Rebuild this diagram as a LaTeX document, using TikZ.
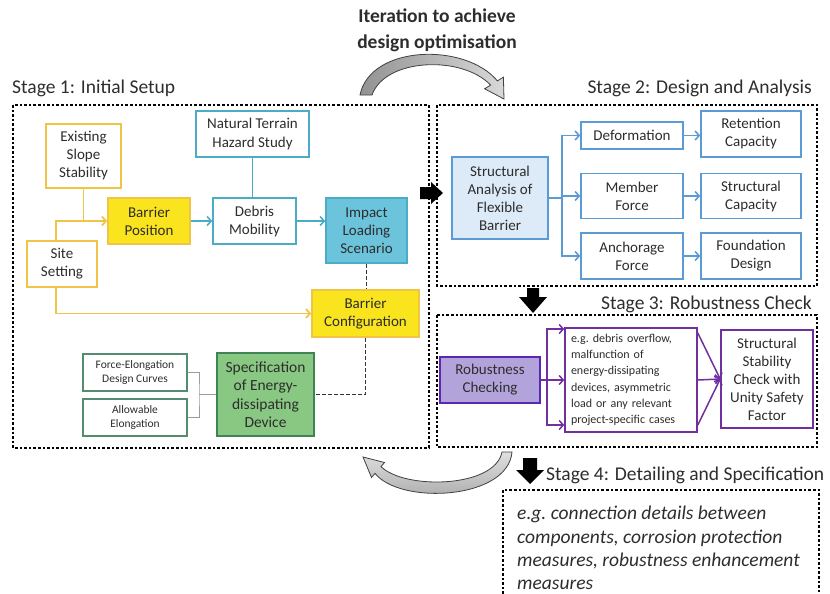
\documentclass[tikz,border=0pt]{standalone}
\usepackage{fontspec}
\setmainfont{Carlito}
\usepackage{xcolor}
\usepackage{tikz}
\usetikzlibrary{arrows.meta, positioning}

\definecolor{txt}{RGB}{45,45,45}
\definecolor{ylwline}{RGB}{240,196,70}
\definecolor{ylwfill}{RGB}{250,228,30}
\definecolor{cyanline}{RGB}{75,172,198}
\definecolor{cyanfill}{RGB}{108,196,220}
\definecolor{blueline}{RGB}{91,155,213}
\definecolor{bluefill}{RGB}{221,234,247}
\definecolor{purpline}{RGB}{112,48,160}
\definecolor{purpfill}{RGB}{178,164,218}
\definecolor{grnline}{RGB}{62,132,84}
\definecolor{grnfill}{RGB}{136,200,130}
\definecolor{grnthin}{RGB}{84,140,112}
\definecolor{brkline}{RGB}{150,160,155}

\begin{document}
\begin{tikzpicture}[x=1pt, y=-1pt, >={Straight Barb[length=4pt,width=9pt]},
    box/.style={draw, line width=1.6pt, align=center, inner sep=0pt, text=txt, font=\fontsize{15}{18}\selectfont},
    sz/.style 2 args={minimum width=#1pt, minimum height=#2pt},
    ybox/.style={box, draw=ylwline, fill=white},
    yfill/.style={box, draw=ylwline, fill=ylwfill},
    cbox/.style={box, draw=cyanline, fill=white},
    cfill/.style={box, draw=cyanline, fill=cyanfill},
    bbox/.style={box, draw=blueline, fill=white},
    gbox/.style={box, draw=grnthin, line width=1.2pt, font=\fontsize{11.5}{14.5}\selectfont},
    stagebox/.style={draw=black, line width=2.6pt, dash pattern=on 2.6pt off 2pt},
    stagelabel/.style={text=txt, font=\fontsize{19.5}{24}\selectfont, inner sep=0pt},
    yline/.style={draw=ylwline, line width=1.8pt},
    cline/.style={draw=cyanline, line width=1.6pt},
    bline/.style={draw=blueline, line width=1.6pt},
    pline/.style={draw=purpline, line width=1.5pt},
    gline/.style={draw=brkline, line width=1pt},
    dline/.style={draw=black!80, line width=1.8pt, dash pattern=on 4pt off 2pt},
    curvearrow/.style={draw=black!75, line width=0.8pt}]

    \useasboundingbox (0,0) rectangle (830,594);

    % Title and stage frames
    \node (iter) [text=txt, font=\bfseries\fontsize{19.5}{26}\selectfont, align=center] at (437,30) {Iteration to achieve\\design optimisation};
    \node (s1) [stagelabel, anchor=west] at (12,88) {Stage 1: Initial Setup};
    \node (s2) [stagelabel, anchor=east] at (812,88) {Stage 2: Design and Analysis};
    \node (s3) [stagelabel, anchor=east] at (812,304) {Stage 3: Robustness Check};
    \node (s4) [stagelabel, anchor=west] at (546,475) {Stage 4: Detailing and Specification};
    \draw[stagebox] (13,105) rectangle (429,448);
    \draw[stagebox] (437,105) rectangle (817,286);
    \draw[stagebox] (437,315) rectangle (817,447);
    \draw[stagebox] (503,594) -- (503,490) -- (819,490) -- (819,594);

    % Stage 1 nodes
    \node (exist) [ybox, sz={75}{64}] at (83.5,156) {Existing\\Slope\\Stability};
    \node (terrain) [cbox, sz={113}{46}] at (252.5,134) {Natural Terrain\\Hazard Study};
    \node (barpos) [yfill, sz={82}{46}] at (149,221) {Barrier\\Position};
    \node (debris) [cbox, sz={83}{46}] at (254.5,221) {Debris\\Mobility};
    \node (impact) [cfill, sz={81}{65}] at (366.5,230.5) {Impact\\Loading\\Scenario};
    \node (site) [ybox, sz={70}{46}] at (62,264) {Site\\Setting};
    \node (barconf) [yfill, sz={107}{47}] at (365.5,313.5) {Barrier\\Configuration};
    \node (spec) [box, draw=grnline, fill=grnfill, sz={97}{83}, font=\fontsize{15.5}{18.5}\selectfont] at (265.5,394.5) {Specification\\of Energy-\\dissipating\\Device};
    \node (curves) [gbox, sz={104}{37}] at (135,372.5) {Force-Elongation\\Design Curves};
    \node (elong) [gbox, sz={104}{37}] at (135,417.5) {Allowable\\Elongation};
    \coordinate (brk) at (199,394.5);

    % Stage 1 links
    \draw[yline] (exist.south) -- (exist.south |- barpos.west);
    \draw[yline,->] ([xshift=-6pt]site.north) |- (barpos.west);
    \draw[yline,->] ([xshift=-6pt]site.south) |- (barconf.west);
    \draw[cline] (terrain.south) -- (terrain.south |- debris.north);
    \draw[cline,->] (barpos) -- (debris);
    \draw[cline,->] (debris.east) -- (debris.east -| impact.west);
    \draw[dline] (impact.south) -- (impact.south |- barconf.north);
    \draw[dline] (barconf.south) |- (spec.east);
    \draw[gline] (curves.east) -| (brk) |- (elong.east);
    \draw[gline] (brk) -- (spec.west);

    % Stage 2 nodes
    \node (analysis) [box, draw=blueline, fill=bluefill, sz={96}{82}] at (500,198) {Structural\\Analysis of\\Flexible\\Barrier};
    \node (deform) [bbox, sz={102}{27}] at (632,135.5) {Deformation};
    \node (retain) [bbox, sz={100}{46}] at (751,134) {Retention\\Capacity};
    \node (member) [bbox, sz={102}{45}] at (632,196) {Member\\Force};
    \node (capacity) [bbox, sz={100}{45}] at (751,196) {Structural\\Capacity};
    \node (anchor) [bbox, sz={102}{46}] at (632,256) {Anchorage\\Force};
    \node (found) [bbox, sz={100}{46}] at (751,256) {Foundation\\Design};
    \coordinate (split2) at (562,198);

    % Stage 2 links
    \draw[bline] (analysis.east) -- (split2);
    \draw[bline,->] (split2) |- (deform.west);
    \draw[bline,->] (split2) |- (member.west);
    \draw[bline,->] (split2) |- (anchor.west);
    \draw[bline,->] (deform.east) -- (deform.east -| retain.west);
    \draw[bline,->] (member) -- (capacity);
    \draw[bline,->] (anchor) -- (found);

    % Stage 3 nodes
    \node (robust) [box, draw=purpline!80!blue, fill=purpfill, sz={100}{46}] at (490,380) {Robustness\\Checking};
    \node (cases) [box, draw=purpline, fill=white, text width=120pt, inner xsep=6pt, minimum height=104pt, align=left, font=\fontsize{12}{16.3}\selectfont] at (631,380) {e.g.\ debris overflow,\\malfunction of\\energy-dissipating\\devices, asymmetric\\load or any relevant\\project-specific cases};
    \node (stable) [box, draw=purpline, fill=white, sz={92}{98}] at (767,379) {Structural\\Stability\\Check with\\Unity Safety\\Factor};
    \coordinate (split3) at (547,380);

    % Stage 3 links
    \draw[pline] (robust.east) -- (split3);
    \draw[pline,->] (split3) |- ([yshift=51pt]cases.west);
    \draw[pline,->] (split3) -- (cases.west);
    \draw[pline,->] (split3) |- ([yshift=-45pt]cases.west);
    \draw[pline,->] ([yshift=47pt]cases.east) -- (stable.west);
    \draw[pline,->] (cases.east) -- (stable.west);
    \draw[pline,->] ([yshift=-45pt]cases.east) -- (stable.west);

    % Stage 4 text
    \node (detail) [anchor=north west, align=left, inner sep=0pt, text=txt, font=\itshape\fontsize{19.5}{23.3}\selectfont] at (517,506) {e.g.\ connection details between\\components, corrosion protection\\measures, robustness enhancement\\measures};

    % Block arrows between stages
    \fill[black] (420,187) -- (431,187) -- (431,182) -- (443,193) -- (431,204) -- (431,199) -- (420,199) -- cycle;
    \fill[black] (527,288) -- (539,288) -- (539,297) -- (547,297) -- (533,313) -- (519,297) -- (527,297) -- cycle;
    \fill[black] (523,458) -- (537,458) -- (537,470) -- (544,470) -- (530,484) -- (516,470) -- (523,470) -- cycle;

    % Iteration arrows
    \shadedraw[curvearrow, left color=gray!85, right color=gray!30] (360,95) .. controls (370,45) and (465,42) .. (497.4,80.9) -- (503.4,77.2) -- (504,99) -- (484.6,88.8) -- (490.6,85.1) .. controls (462,55) and (385,58) .. (372,95) -- cycle;
    \shadedraw[curvearrow, top color=gray!25, bottom color=gray!70] (512,452) .. controls (508,500) and (400,505) .. (375,473.4) -- (371.5,477.5) -- (363,457) -- (384.5,462.5) -- (381,466.6) .. controls (405,490) and (495,488) .. (502,452) -- cycle;
\end{tikzpicture}
\end{document}
